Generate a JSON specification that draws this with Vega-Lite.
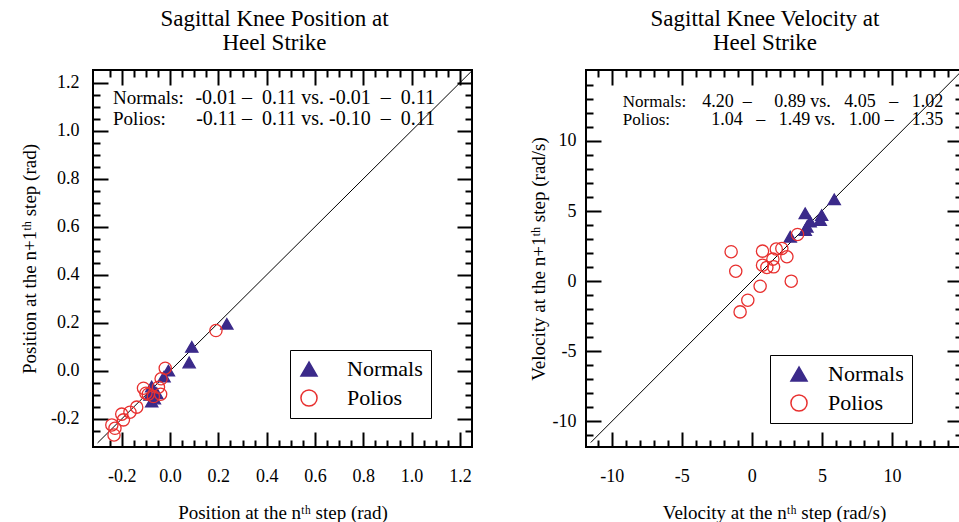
{
  "$schema": "https://vega.github.io/schema/vega-lite/v6.json",
  "padding": {"left": 19, "top": 7, "right": 0, "bottom": 0},
  "background": "white",
  "spacing": 54,
  "config": {
    "view": {"stroke": "black", "strokeWidth": 2},
    "axis": {"grid": false, "domain": false, "tickColor": "black", "tickWidth": 2, "labelFont": "Liberation Serif", "labelFontSize": 18, "labelColor": "black", "titleFont": "Liberation Serif", "titleFontSize": 19, "titleFontWeight": "normal", "titleColor": "black", "labelFlush": false, "labelOverlap": false},
    "title": {"font": "Liberation Serif", "fontSize": 23, "fontWeight": "normal", "color": "black", "anchor": "middle", "frame": "group", "offset": 14, "lineHeight": 24},
    "legend": {"fillColor": "white", "strokeColor": "black", "padding": 8, "labelFont": "Liberation Serif", "labelFontSize": 22, "labelColor": "black", "symbolSize": 260, "rowPadding": 6, "labelOffset": 22, "symbolStrokeWidth": 1.5, "labelLimit": 0}
  },
  "datasets": {
    "diagPos": [{"v": -0.3}, {"v": 1.3}],
    "diagVel": [{"v": -11.5}, {"v": 15.5}],
    "one": [{}],
    "pos": [
      {"x": 0.235, "y": 0.196, "group": "Normals"},
      {"x": 0.09, "y": 0.10, "group": "Normals"},
      {"x": 0.079, "y": 0.035, "group": "Normals"},
      {"x": -0.007, "y": 0.001, "group": "Normals"},
      {"x": -0.025, "y": -0.024, "group": "Normals"},
      {"x": -0.076, "y": -0.065, "group": "Normals"},
      {"x": -0.083, "y": -0.1, "group": "Normals"},
      {"x": -0.076, "y": -0.128, "group": "Normals"},
      {"x": -0.055, "y": -0.093, "group": "Normals"},
      {"x": -0.065, "y": -0.115, "group": "Normals"},
      {"x": 0.19, "y": 0.168, "group": "Polios"},
      {"x": -0.02, "y": 0.011, "group": "Polios"},
      {"x": -0.037, "y": -0.033, "group": "Polios"},
      {"x": -0.048, "y": -0.068, "group": "Polios"},
      {"x": -0.039, "y": -0.097, "group": "Polios"},
      {"x": -0.069, "y": -0.107, "group": "Polios"},
      {"x": -0.11, "y": -0.072, "group": "Polios"},
      {"x": -0.1, "y": -0.093, "group": "Polios"},
      {"x": -0.09, "y": -0.097, "group": "Polios"},
      {"x": -0.138, "y": -0.151, "group": "Polios"},
      {"x": -0.166, "y": -0.172, "group": "Polios"},
      {"x": -0.2, "y": -0.18, "group": "Polios"},
      {"x": -0.193, "y": -0.204, "group": "Polios"},
      {"x": -0.241, "y": -0.225, "group": "Polios"},
      {"x": -0.228, "y": -0.239, "group": "Polios"},
      {"x": -0.232, "y": -0.267, "group": "Polios"}
    ],
    "vel": [
      {"x": 5.88, "y": 5.83, "group": "Normals"},
      {"x": 3.81, "y": 4.84, "group": "Normals"},
      {"x": 4.98, "y": 4.71, "group": "Normals"},
      {"x": 4.88, "y": 4.36, "group": "Normals"},
      {"x": 3.93, "y": 3.88, "group": "Normals"},
      {"x": 3.81, "y": 3.64, "group": "Normals"},
      {"x": 2.74, "y": 3.17, "group": "Normals"},
      {"x": 4.16, "y": 4.24, "group": "Normals"},
      {"x": 3.26, "y": 3.33, "group": "Polios"},
      {"x": 1.74, "y": 2.29, "group": "Polios"},
      {"x": 2.14, "y": 2.33, "group": "Polios"},
      {"x": 2.5, "y": 1.74, "group": "Polios"},
      {"x": 0.76, "y": 2.14, "group": "Polios"},
      {"x": -1.48, "y": 2.1, "group": "Polios"},
      {"x": -1.15, "y": 0.71, "group": "Polios"},
      {"x": 0.76, "y": 1.14, "group": "Polios"},
      {"x": 1.07, "y": 0.98, "group": "Polios"},
      {"x": 1.55, "y": 1.02, "group": "Polios"},
      {"x": 1.5, "y": 1.57, "group": "Polios"},
      {"x": 0.59, "y": -0.36, "group": "Polios"},
      {"x": 2.81, "y": 0.0, "group": "Polios"},
      {"x": -0.29, "y": -1.36, "group": "Polios"},
      {"x": -0.84, "y": -2.19, "group": "Polios"}
    ]
  },
  "resolve": {"legend": {"fill": "independent", "stroke": "independent", "shape": "independent"}},
  "hconcat": [
    {
      "width": 379,
      "height": 377,
      "title": {"text": ["Sagittal Knee Position at", "Heel Strike"], "dx": -8},
      "resolve": {"axis": {"x": "independent", "y": "independent"}},
      "layer": [
        {
          "data": {"name": "diagPos"},
          "mark": {"type": "line", "color": "black", "strokeWidth": 1, "clip": true},
          "encoding": {
            "x": {"field": "v", "type": "quantitative", "scale": {"domain": [-0.319, 1.25], "nice": false, "zero": false}, "axis": {"orient": "top", "values": [-0.2, 0, 0.2, 0.4, 0.6, 0.8, 1.0, 1.2], "tickSize": -15, "labels": false, "title": null}},
            "y": {"field": "v", "type": "quantitative", "scale": {"domain": [-0.317, 1.253], "nice": false, "zero": false}, "axis": {"orient": "right", "values": [-0.2, 0, 0.2, 0.4, 0.6, 0.8, 1.0, 1.2], "tickSize": -15, "labels": false, "title": null}}
          }
        },
        {
          "data": {"name": "pos"},
          "mark": {"type": "point", "size": 150, "strokeWidth": 1.3, "opacity": 1},
          "encoding": {
            "x": {"field": "x", "type": "quantitative", "scale": {"domain": [-0.319, 1.25], "nice": false, "zero": false}, "axis": {"orient": "bottom", "values": [-0.2, 0, 0.2, 0.4, 0.6, 0.8, 1.0, 1.2], "format": ".1f", "labelExpr": "replace(datum.label, '\u2212', '-')", "tickSize": -15, "labelPadding": 35, "titlePadding": 18, "title": "Position at the n\u1d57\u02b0 step (rad)"}},
            "y": {"field": "y", "type": "quantitative", "scale": {"domain": [-0.317, 1.253], "nice": false, "zero": false}, "axis": {"orient": "left", "values": [-0.2, 0, 0.2, 0.4, 0.6, 0.8, 1.0, 1.2], "format": ".1f", "labelExpr": "replace(datum.label, '\u2212', '-')", "tickSize": -15, "labelPadding": 29, "titlePadding": 11, "title": "Position at the n+1\u1d57\u02b0 step (rad)"}},
            "fill": {"field": "group", "type": "nominal", "scale": {"domain": ["Normals", "Polios"], "range": ["#3b2a8a", "rgba(0,0,0,0)"]}, "legend": {"title": null, "orient": "none", "legendX": 197, "legendY": 280, "labelOffset": 27}},
            "stroke": {"field": "group", "type": "nominal", "scale": {"domain": ["Normals", "Polios"], "range": ["#3b2a8a", "#e8302f"]}, "legend": {"title": null, "orient": "none", "legendX": 197, "legendY": 280, "labelOffset": 27}},
            "shape": {"field": "group", "type": "nominal", "scale": {"domain": ["Normals", "Polios"], "range": ["triangle-up", "circle"]}, "legend": {"title": null, "orient": "none", "legendX": 197, "legendY": 280, "labelOffset": 27}}
          }
        },
        {
          "data": {"name": "one"},
          "mark": {"type": "text", "text": "Normals:", "align": "left", "baseline": "middle", "font": "Liberation Serif", "fontSize": 19, "color": "black"},
          "encoding": {
            "x": {"datum": -0.236, "type": "quantitative", "scale": {"domain": [-0.319, 1.25], "nice": false, "zero": false}, "axis": {"orient": "bottom", "values": [-0.25, -0.15, -0.1, -0.05, 0.05, 0.1, 0.15, 0.25, 0.3, 0.35, 0.45, 0.5, 0.55, 0.65, 0.7, 0.75, 0.85, 0.9, 0.95, 1.05, 1.1, 1.15], "tickSize": -7, "labels": false, "title": null}},
            "y": {"datum": 1.137, "type": "quantitative", "scale": {"domain": [-0.317, 1.253], "nice": false, "zero": false}, "axis": {"orient": "left", "values": [-0.25, -0.15, -0.1, -0.05, 0.05, 0.1, 0.15, 0.25, 0.3, 0.35, 0.45, 0.5, 0.55, 0.65, 0.7, 0.75, 0.85, 0.9, 0.95, 1.05, 1.1, 1.15], "tickSize": -7, "labels": false, "title": null}}
          }
        },
        {
          "data": {"name": "one"},
          "mark": {"type": "text", "text": "Polios:", "align": "left", "baseline": "middle", "font": "Liberation Serif", "fontSize": 19, "color": "black"},
          "encoding": {
            "x": {"datum": -0.236, "type": "quantitative", "scale": {"domain": [-0.319, 1.25], "nice": false, "zero": false}, "axis": {"orient": "top", "values": [-0.25, -0.15, -0.1, -0.05, 0.05, 0.1, 0.15, 0.25, 0.3, 0.35, 0.45, 0.5, 0.55, 0.65, 0.7, 0.75, 0.85, 0.9, 0.95, 1.05, 1.1, 1.15], "tickSize": -7, "labels": false, "title": null}},
            "y": {"datum": 1.05, "type": "quantitative", "scale": {"domain": [-0.317, 1.253], "nice": false, "zero": false}, "axis": {"orient": "right", "values": [-0.25, -0.15, -0.1, -0.05, 0.05, 0.1, 0.15, 0.25, 0.3, 0.35, 0.45, 0.5, 0.55, 0.65, 0.7, 0.75, 0.85, 0.9, 0.95, 1.05, 1.1, 1.15], "tickSize": -7, "labels": false, "title": null}}
          }
        },
        {
          "data": {"name": "one"},
          "mark": {"type": "text", "text": "-0.01\u00a0\u2013\u00a0\u00a00.11 vs. -0.01\u00a0\u00a0\u2013\u00a0\u00a00.11", "align": "right", "baseline": "middle", "font": "Liberation Serif", "fontSize": 20, "color": "black"},
          "encoding": {
            "x": {"datum": 1.097, "type": "quantitative", "axis": null},
            "y": {"datum": 1.137, "type": "quantitative", "axis": null}
          }
        },
        {
          "data": {"name": "one"},
          "mark": {"type": "text", "text": "-0.11\u00a0\u2013\u00a0\u00a00.11 vs. -0.10\u00a0\u00a0\u2013\u00a0\u00a00.11", "align": "right", "baseline": "middle", "font": "Liberation Serif", "fontSize": 20, "color": "black"},
          "encoding": {
            "x": {"datum": 1.097, "type": "quantitative", "axis": null},
            "y": {"datum": 1.05, "type": "quantitative", "axis": null}
          }
        }
      ]
    },
    {
      "width": 376,
      "height": 377,
      "title": {"text": ["Sagittal Knee Velocity at", "Heel Strike"], "dx": -9},
      "resolve": {"axis": {"x": "independent", "y": "independent"}},
      "layer": [
        {
          "data": {"name": "diagVel"},
          "mark": {"type": "line", "color": "black", "strokeWidth": 1, "clip": true},
          "encoding": {
            "x": {"field": "v", "type": "quantitative", "scale": {"domain": [-11.84, 15.0], "nice": false, "zero": false}, "axis": {"orient": "top", "values": [-10, -5, 0, 5, 10], "tickSize": -15, "labels": false, "title": null}},
            "y": {"field": "v", "type": "quantitative", "scale": {"domain": [-11.82, 15.05], "nice": false, "zero": false}, "axis": {"orient": "right", "values": [-10, -5, 0, 5, 10], "tickSize": -15, "labels": false, "title": null}}
          }
        },
        {
          "data": {"name": "vel"},
          "mark": {"type": "point", "size": 150, "strokeWidth": 1.3, "opacity": 1},
          "encoding": {
            "x": {"field": "x", "type": "quantitative", "scale": {"domain": [-11.84, 15.0], "nice": false, "zero": false}, "axis": {"orient": "bottom", "values": [-10, -5, 0, 5, 10], "format": "d", "labelExpr": "replace(datum.label, '\u2212', '-')", "tickSize": -15, "labelPadding": 35, "titlePadding": 18, "title": "Velocity at the n\u1d57\u02b0 step (rad/s)"}},
            "y": {"field": "y", "type": "quantitative", "scale": {"domain": [-11.82, 15.05], "nice": false, "zero": false}, "axis": {"orient": "left", "values": [-10, -5, 0, 5, 10], "format": "d", "labelExpr": "replace(datum.label, '\u2212', '-')", "tickSize": -15, "labelPadding": 25, "titlePadding": 4, "title": "Velocity at the n+1\u1d57\u02b0 step (rad/s)"}},
            "fill": {"field": "group", "type": "nominal", "scale": {"domain": ["Normals", "Polios"], "range": ["#3b2a8a", "rgba(0,0,0,0)"]}, "legend": {"title": null, "orient": "none", "legendX": 184, "legendY": 285, "symbolOffset": 10, "labelOffset": 18}},
            "stroke": {"field": "group", "type": "nominal", "scale": {"domain": ["Normals", "Polios"], "range": ["#3b2a8a", "#e8302f"]}, "legend": {"title": null, "orient": "none", "legendX": 184, "legendY": 285, "symbolOffset": 10, "labelOffset": 18}},
            "shape": {"field": "group", "type": "nominal", "scale": {"domain": ["Normals", "Polios"], "range": ["triangle-up", "circle"]}, "legend": {"title": null, "orient": "none", "legendX": 184, "legendY": 285, "symbolOffset": 10, "labelOffset": 18}}
          }
        },
        {
          "data": {"name": "one"},
          "mark": {"type": "text", "text": "Normals:", "align": "left", "baseline": "middle", "font": "Liberation Serif", "fontSize": 17, "color": "black"},
          "encoding": {
            "x": {"datum": -9.21, "type": "quantitative", "scale": {"domain": [-11.84, 15.0], "nice": false, "zero": false}, "axis": {"orient": "bottom", "values": [-11, -9, -8, -7, -6, -4, -3, -2, -1, 1, 2, 3, 4, 6, 7, 8, 9, 11, 12, 13, 14], "tickSize": -7, "labels": false, "title": null}},
            "y": {"datum": 12.79, "type": "quantitative", "scale": {"domain": [-11.82, 15.05], "nice": false, "zero": false}, "axis": {"orient": "left", "values": [-11, -9, -8, -7, -6, -4, -3, -2, -1, 1, 2, 3, 4, 6, 7, 8, 9, 11, 12, 13, 14], "tickSize": -7, "labels": false, "title": null}}
          }
        },
        {
          "data": {"name": "one"},
          "mark": {"type": "text", "text": "Polios:", "align": "left", "baseline": "middle", "font": "Liberation Serif", "fontSize": 17, "color": "black"},
          "encoding": {
            "x": {"datum": -9.21, "type": "quantitative", "scale": {"domain": [-11.84, 15.0], "nice": false, "zero": false}, "axis": {"orient": "top", "values": [-11, -9, -8, -7, -6, -4, -3, -2, -1, 1, 2, 3, 4, 6, 7, 8, 9, 11, 12, 13, 14], "tickSize": -7, "labels": false, "title": null}},
            "y": {"datum": 11.5, "type": "quantitative", "scale": {"domain": [-11.82, 15.05], "nice": false, "zero": false}, "axis": {"orient": "right", "values": [-11, -9, -8, -7, -6, -4, -3, -2, -1, 1, 2, 3, 4, 6, 7, 8, 9, 11, 12, 13, 14], "tickSize": -7, "labels": false, "title": null}}
          }
        },
        {
          "data": {"name": "one"},
          "mark": {"type": "text", "text": "4.20\u00a0\u00a0\u2013\u00a0\u00a0\u00a0\u00a0\u00a00.89 vs.\u00a0\u00a0\u00a04.05\u00a0\u00a0\u00a0\u2013\u00a0\u00a0\u00a01.02", "align": "right", "baseline": "middle", "font": "Liberation Serif", "fontSize": 18, "color": "black"},
          "encoding": {
            "x": {"datum": 13.66, "type": "quantitative", "axis": null},
            "y": {"datum": 12.79, "type": "quantitative", "axis": null}
          }
        },
        {
          "data": {"name": "one"},
          "mark": {"type": "text", "text": "1.04\u00a0\u00a0\u00a0\u2013\u00a0\u00a0\u00a01.49 vs.\u00a0\u00a0\u00a01.00\u00a0\u2013\u00a0\u00a0\u00a0\u00a01.35", "align": "right", "baseline": "middle", "font": "Liberation Serif", "fontSize": 18, "color": "black"},
          "encoding": {
            "x": {"datum": 13.66, "type": "quantitative", "axis": null},
            "y": {"datum": 11.5, "type": "quantitative", "axis": null}
          }
        }
      ]
    }
  ]
}
